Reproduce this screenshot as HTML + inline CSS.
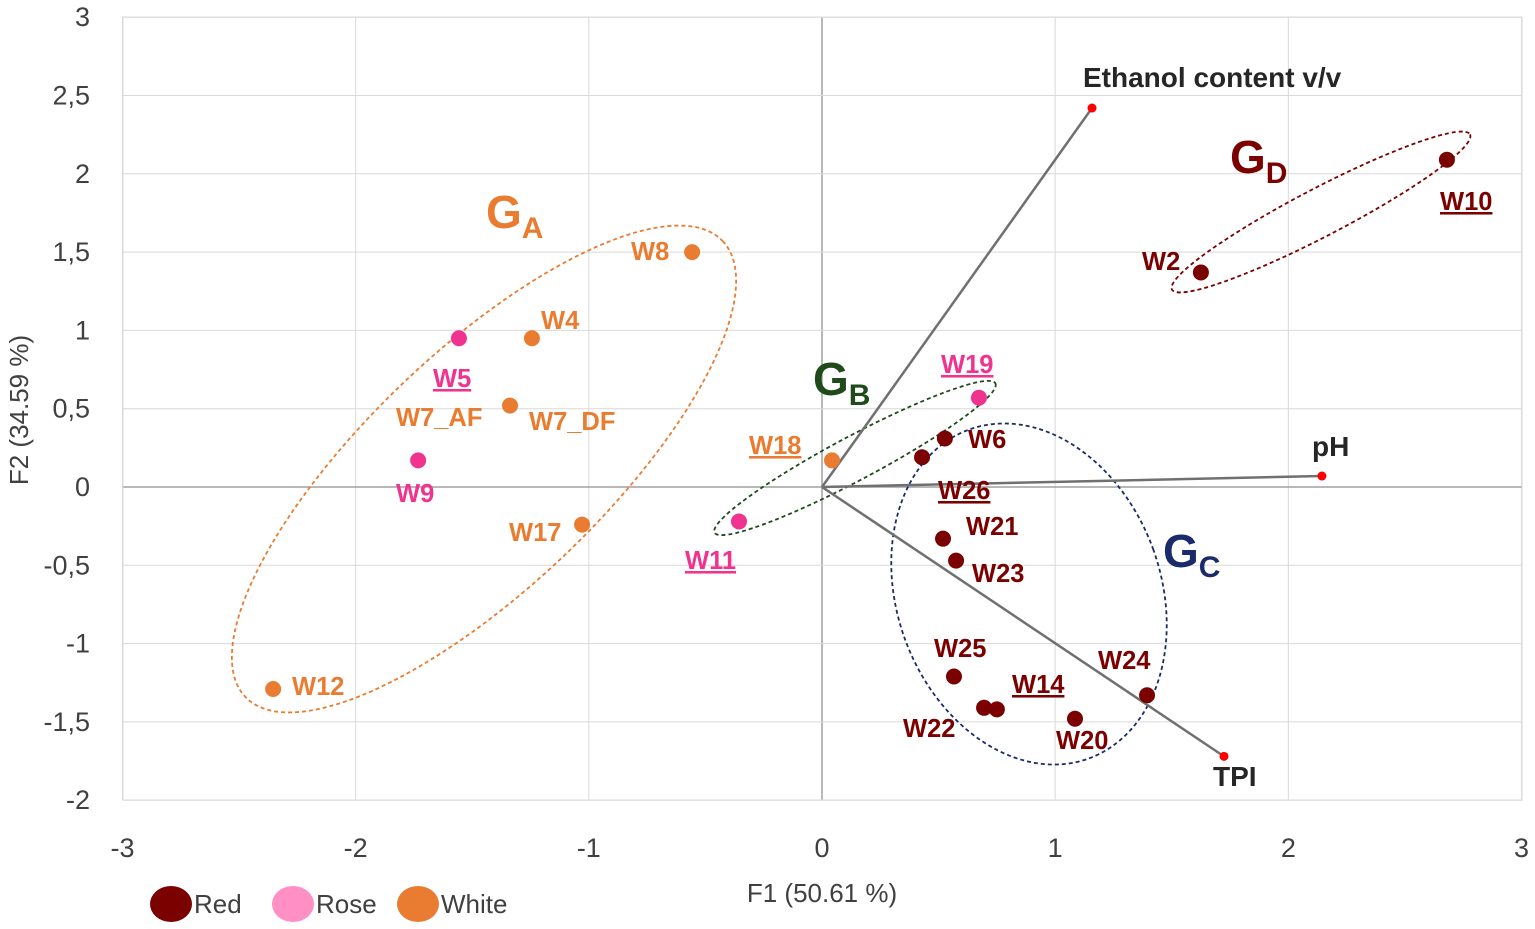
<!DOCTYPE html>
<html><head><meta charset="utf-8"><style>
body{margin:0;background:#fff;}
svg{display:block;font-family:"Liberation Sans",sans-serif;}
</style></head><body>
<svg id="chart" width="1535" height="929"></svg>
<script>
const xTicks=[-3,-2,-1,0,1,2,3];
const yTicks=[3,2.5,2,1.5,1,0.5,0,-0.5,-1,-1.5,-2];
const yTickLabels=["3","2,5","2","1,5","1","0,5","0","-0,5","-1","-1,5","-2"];
const pointNames=["W8","W4","W5","W7_DF","W9","W17","W12","W11","W18","W19","W6","W26","W21","W23","W25","W22a","W22b","W20","W24","W2","W10"];
const pointX=[-0.557,-1.244,-1.557,-1.338,-1.732,-1.029,-2.354,-0.356,0.043,0.673,0.527,0.429,0.519,0.575,0.566,0.695,0.75,1.085,1.394,1.625,2.68];
const pointY=[1.50,0.95,0.95,0.52,0.17,-0.24,-1.29,-0.22,0.17,0.57,0.31,0.19,-0.33,-0.47,-1.21,-1.41,-1.42,-1.48,-1.33,1.37,2.09];
const pointType=["white","white","rose","white","rose","white","white","rose","white","rose","red","red","red","red","red","red","red","red","red","red","red"];
const vecNames=["Ethanol content v/v","pH","TPI"];
const vecX=[1.158,2.144,1.724];
const vecY=[2.42,0.07,-1.72];
const colors={red:"#7b0000",rose:"#f0338f",white:"#e97c30"};
const X=v=>822+v*233.17, Y=v=>487-v*156.6;
const svg=document.getElementById('chart');
const NS="http://www.w3.org/2000/svg";
function mk(t,a,p){const e=document.createElementNS(NS,t);for(const k in a)e.setAttribute(k,a[k]);(p||svg).appendChild(e);return e;}
xTicks.forEach(t=>{const l=mk('line',{x1:X(t),x2:X(t),y1:17,y2:800,stroke:t===0?'#a0a0a0':'#d9d9d9','stroke-width':t===0?1.5:1});

const tx=mk('text',{x:X(t),y:857,'text-anchor':'middle','font-size':27,fill:'#404040'});tx.textContent=t;
});
yTicks.forEach((t,i)=>{const l=mk('line',{x1:123,x2:1522,y1:Y(t),y2:Y(t),stroke:t===0?'#a0a0a0':'#d9d9d9','stroke-width':t===0?1.5:1});

const tx=mk('text',{x:90,y:Y(t)+9,'text-anchor':'end','font-size':27,fill:'#404040'});tx.textContent=yTickLabels[i];
});
mk('rect',{x:123,y:17,width:1399,height:783,fill:'none',stroke:'#d9d9d9'});
let t=mk('text',{x:822,y:902,'text-anchor':'middle','font-size':26,fill:'#404040'});t.textContent='F1 (50.61 %)';
t=mk('text',{x:28,y:410,'text-anchor':'middle','font-size':26,fill:'#404040',transform:'rotate(-90 28 410)'});t.textContent='F2 (34.59 %)';
const ells=[[484,469,330,118,-43.7,'#e97c30'],[855,458,159,22,-28,'#1f4a1a'],[1029,594,132,175,-20,'#1a2a6a'],[1321,212,168,24,-27.5,'#7b0000']];
ells.forEach(e=>{const el=mk('ellipse',{cx:e[0],cy:e[1],rx:e[2],ry:e[3],transform:`rotate(${e[4]} ${e[0]} ${e[1]})`,fill:'none',stroke:e[5],'stroke-width':1.8,'stroke-dasharray':'4 3'});
});
vecNames.forEach((n,i)=>{const l=mk('line',{x1:X(0),y1:Y(0),x2:X(vecX[i]),y2:Y(vecY[i]),stroke:'#707070','stroke-width':2.5});

const c=mk('circle',{cx:X(vecX[i]),cy:Y(vecY[i]),r:4.5,fill:'#ff0000'});});
pointX.forEach((v,i)=>{const c=mk('circle',{cx:X(v),cy:Y(pointY[i]),r:8,fill:colors[pointType[i]]});
});
const labels=[["Ethanol content v/v",1083,87,'#262626',0,28],["pH",1312,456,'#262626',0,28],["TPI",1213,786,'#262626',0,28],
["W8",631,260,'#e97c30',0],["W4",541,329,'#e97c30',0],["W5",433,387,'#f0338f',1],["W7_AF",396,426,'#e97c30',0],["W7_DF",529,430,'#e97c30',0],
["W9",396,502,'#f0338f',0],["W17",509,541,'#e97c30',0],["W12",292,695,'#e97c30',0],["W11",685,569,'#f0338f',1],["W18",749,454,'#e97c30',1],
["W19",941,373,'#f0338f',1],["W6",968,448,'#7b0000',0],["W26",938,499,'#7b0000',1],["W21",966,535,'#7b0000',0],["W23",972,582,'#7b0000',0],
["W25",934,657,'#7b0000',0],["W14",1012,693,'#7b0000',1],["W22",903,737,'#7b0000',0],["W20",1056,749,'#7b0000',0],["W24",1098,669,'#7b0000',0],
["W2",1142,270,'#7b0000',0],["W10",1440,210,'#7b0000',1]];
labels.forEach(L=>{const tx=mk('text',{x:L[1],y:L[2],'font-size':L[5]||25.5,'font-weight':'bold',fill:L[3],'text-decoration':L[4]?'underline':'none'});tx.textContent=L[0];
});
const groups=[["G","A",486,228,'#e97c30'],["G","B",813,395,'#1f4a1a'],["G","C",1163,567,'#1a2a6a'],["G","D",1230,173,'#7b0000']];
groups.forEach(g=>{const tx=mk('text',{x:g[2],y:g[3],'font-size':46,'font-weight':'bold',fill:g[4]});tx.textContent=g[0];
const s=mk('tspan',{'font-size':30,dy:10},tx);s.textContent=g[1];
});
[["Red",'#7b0000',171],["Rose",'#ff8fc4',293],["White",'#e97c30',418]].forEach(l=>{
const c=mk('ellipse',{cx:l[2],cy:904,rx:21,ry:18,fill:l[1]});
const tx=mk('text',{x:l[2]+23,y:913,'font-size':26,fill:'#404040'});tx.textContent=l[0];});
</script>
</body></html>
